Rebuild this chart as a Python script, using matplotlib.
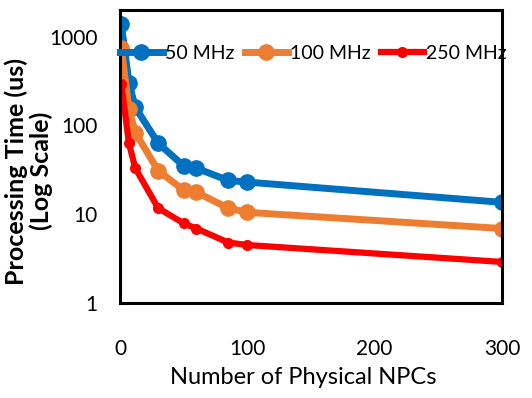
import matplotlib.pyplot as plt

# number of physical NPCs
npcs = [1, 7, 12, 30, 50, 60, 85, 100, 300]

# processing time (us)
t_50 = [1400, 304, 160, 63, 35, 33, 24, 23, 13.6]
t_100 = [740, 155, 83, 31, 18.6, 17.7, 11.7, 10.5, 6.9]
t_250 = [295, 63, 33, 11.7, 7.9, 6.9, 4.8, 4.5, 2.9]

labels = ['50 MHz', '100 MHz', '250 MHz']
colors = ['#0070C0', '#ED7D31', '#FF0000']

plt.rcParams['font.family'] = ['Lato', 'DejaVu Sans']

fig = plt.figure(figsize=(5.32, 3.98), dpi=100)
ax = fig.add_axes([0.2256, 0.2387, 0.718, 0.7363])

ax.plot(npcs, t_50, color=colors[0], lw=5, marker='o', ms=11, label=labels[0])
ax.plot(npcs, t_100, color=colors[1], lw=5, marker='o', ms=11, label=labels[1])
ax.plot(npcs, t_250, color=colors[2], lw=4.5, marker='o', ms=7, label=labels[2])

ax.set_yscale('log')
ax.set_ylim(1, 2000)
ax.set_xlim(0, 300)
ax.set_xticks([0, 100, 200, 300])
ax.set_yticks([1, 10, 100, 1000])
ax.set_yticklabels(['1', '10', '100', '1000'])
ax.minorticks_off()
ax.tick_params(axis='both', length=0, labelsize=15)
ax.tick_params(axis='y', pad=16)
ax.tick_params(axis='x', pad=26)

for s in ax.spines.values():
    s.set_linewidth(2.2)
    s.set_color('black')

ax.set_xlabel('Number of Physical NPCs', fontsize=17, labelpad=2)
ax.xaxis.set_label_coords(0.48, -0.22)
ax.set_ylabel('Processing Time (us)\n(Log Scale)', fontsize=18, fontweight='bold',
              linespacing=1.1)
ax.yaxis.set_label_coords(-0.175, 0.45)

ax.legend(loc='upper left', bbox_to_anchor=(0.0, 0.88), ncol=3, frameon=False,
          fontsize=14, handlelength=2.2, handletextpad=0.1, columnspacing=0.55,
          borderaxespad=0, borderpad=0)

fig.savefig('out.png', dpi=100)
